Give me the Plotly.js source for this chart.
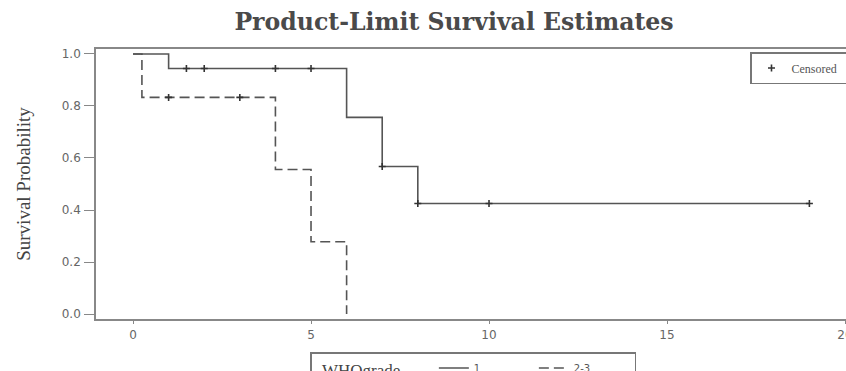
<!DOCTYPE html>
<html><head><meta charset="utf-8">
<script src="https://cdn.plot.ly/plotly-3.0.1.min.js"></script>
<style>html,body{margin:0;padding:0;overflow:hidden;background:#fff;width:846px;height:371px}</style>
</head><body><div id="plot" style="width:880px;height:371px"></div>
<script>
// Group "1" (WHO grade 1) step curve
const g1Time = [0, 1, 6, 7, 8, 19];
const g1Surv = [1.0, 0.944, 0.756, 0.567, 0.425, 0.425];
// Group "2-3" step curve
const g2Time = [0, 0.25, 4, 5, 6];
const g2Surv = [1.0, 0.833, 0.556, 0.278, 0.0];
// Censored observations
const c1Time = [1.5, 2, 4, 5, 7, 8, 10, 19];
const c1Surv = [0.944, 0.944, 0.944, 0.944, 0.567, 0.425, 0.425, 0.425];
const c2Time = [1, 3];
const c2Surv = [0.833, 0.833];
const xTicks = [0, 5, 10, 15, 20];
const yTicks = [0, 0.2, 0.4, 0.6, 0.8, 1.0];

const lineCol = '#555';
const traces = [
  {x: g1Time, y: g1Surv, type: 'scatter', mode: 'lines', name: '1',
   line: {shape: 'hv', color: lineCol, width: 1.6}, legend: 'legend'},
  {x: g2Time, y: g2Surv, type: 'scatter', mode: 'lines', name: '2-3',
   line: {shape: 'hv', color: lineCol, width: 1.6, dash: '10px,5px'}, legend: 'legend'},
  {x: c1Time.concat(c2Time), y: c1Surv.concat(c2Surv), type: 'scatter', mode: 'markers', name: 'Censored&nbsp;&nbsp;&nbsp;',
   marker: {symbol: 'cross-thin', size: 5, line: {width: 1.6, color: '#333'}, color: '#333'}, legend: 'legend2'}
];

const tickFont = {family: 'DejaVu Sans, sans-serif', size: 12, color: '#666'};
const layout = {
  width: 880, height: 371,
  margin: {l: 96, r: 14, t: 49, b: 52, autoexpand: false},
  paper_bgcolor: '#fff', plot_bgcolor: '#fff',
  title: {text: 'Product-Limit Survival Estimates', x: 454/880, xref: 'container', xanchor: 'center',
          y: 1 - 22/371, yref: 'container', yanchor: 'middle',
          font: {family: 'DejaVu Serif, serif', size: 23.6, color: '#4a4a4a', weight: 'bold'}},
  xaxis: {range: [-1.04, 20.59], tickvals: xTicks, ticktext: xTicks.map(String), showgrid: false, zeroline: false,
          showline: true, mirror: true, linecolor: '#888', linewidth: 1.8, ticks: 'outside', ticklen: 3,
          tickcolor: '#888', tickfont: tickFont, ticklabelstandoff: 1},
  yaxis: {range: [-0.019, 1.019], tickvals: yTicks, ticktext: yTicks.map(v => v.toFixed(1)), showgrid: false, zeroline: false,
          showline: true, mirror: true, linecolor: '#888', linewidth: 1.8, ticks: 'outside', ticklen: 10,
          tickcolor: '#888', tickfont: tickFont, ticklabelstandoff: 1,
          title: {text: 'Survival Probability', standoff: 26,
                  font: {family: 'Liberation Serif, Times New Roman, serif', size: 19, color: '#444'}}},
  showlegend: true,
  legend: {orientation: 'h', x: (310-96)/770, xanchor: 'left', y: (319-352)/270, yanchor: 'top',
           bgcolor: '#fff', bordercolor: '#777', borderwidth: 1.5,
           font: {family: 'DejaVu Sans, sans-serif', size: 10, color: '#555'},
           title: {text: '&nbsp;&nbsp;WHOgrade&nbsp;&nbsp;&nbsp;&nbsp;&nbsp;&nbsp;', side: 'left',
                   font: {family: 'Liberation Serif, Times New Roman, serif', size: 17, color: '#444'}},
           itemwidth: 30, entrywidth: 55},
  legend2: {x: (750-96)/770, xanchor: 'left', y: (319-52)/270, yanchor: 'top',
            bgcolor: '#fff', bordercolor: '#777', borderwidth: 1.5,
            font: {family: 'Liberation Serif, Times New Roman, serif', size: 12, color: '#555'}}
};
Plotly.newPlot('plot', traces, layout, {displayModeBar: false, staticPlot: true});
</script></body></html>
